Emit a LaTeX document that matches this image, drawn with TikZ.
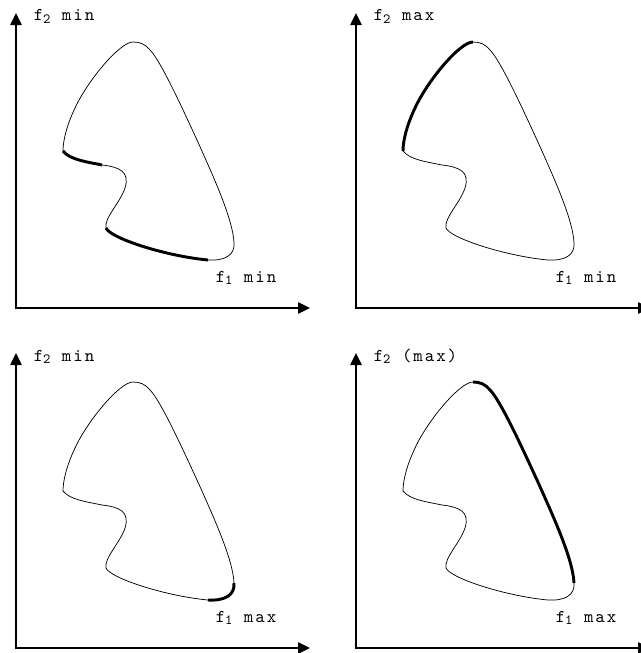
\documentclass[tikz,border=0pt]{standalone}
\usepackage{fontspec}
\newfontfamily\labfont{lmmono10-regular.otf}[LetterSpace=11]
\usetikzlibrary{arrows.meta}
\tikzset{
  axes/.style={line width=1.1pt, {Triangle[length=9pt,width=8.5pt]}-{Triangle[length=9pt,width=8.5pt]}},
  thincurve/.style={line width=0.55pt},
  boldcurve/.style={line width=2.2pt},
  lab/.style={font=\labfont\fontsize{13.5}{13.5}\selectfont, anchor=base west, inner sep=0pt}
}
% curve pieces (pixel coordinates, y downwards)
\def\segLA{(63,151) .. controls (70,160) and (88,162) .. (102,165)}
\def\segAD{(102,165) .. controls (120,167) and (130,172) .. (125,188) .. controls (120,203) and (104,218) .. (106,228)}
\def\segDE{(106,228) .. controls (110,238) and (165,256) .. (208,260)}
\def\segEF{(208,260) .. controls (225,261) and (235,255) .. (234,243)}
\def\segFP{(234,243) .. controls (233,220) and (215,180) .. (197,140) .. controls (180,103) and (160,60) .. (150,50) .. controls (145,44) and (140,42) .. (133,42)}
\def\segPL{(133,42) .. controls (120,42) and (88,80) .. (75,108) .. controls (67,125) and (63,140) .. (63,151)}
\newcommand\subt[1]{\raisebox{-2.2pt}{\fontsize{10.5}{10.5}\selectfont #1}}
\begin{document}
\begin{tikzpicture}[x=0.75pt,y=-0.75pt]
  \clip (0,0) rectangle (641,653);
  \useasboundingbox (0,0) rectangle (641,653);
  % panel 1
  \begin{scope}
    \coordinate (o1) at (16,308); \coordinate (y1) at (16,13); \coordinate (x1) at (310,308);
    \draw[axes] (y1) -- (o1) -- (x1);
    \node[lab] (t1) at (33.5,21) {f\subt{2} min};
    \node[lab] (r1) at (215.5,282) {f\subt{1} min};
    \draw[thincurve] \segLA -- \segAD -- \segDE -- \segEF -- \segFP -- \segPL -- cycle;
    \draw[boldcurve] \segLA;
    \draw[boldcurve] \segDE;
  \end{scope}
  % panel 2
  \begin{scope}[shift={(340,0)}]
    \coordinate (o2) at (16,308); \coordinate (y2) at (16,13); \coordinate (x2) at (310,308);
    \draw[axes] (y2) -- (o2) -- (x2);
    \node[lab] (t2) at (33.5,21) {f\subt{2} max};
    \node[lab] (r2) at (215.5,282) {f\subt{1} min};
    \draw[thincurve] \segLA -- \segAD -- \segDE -- \segEF -- \segFP -- \segPL -- cycle;
    \draw[boldcurve] \segPL;
  \end{scope}
  % panel 3
  \begin{scope}[shift={(0,340)}]
    \coordinate (o3) at (16,308); \coordinate (y3) at (16,13); \coordinate (x3) at (310,308);
    \draw[axes] (y3) -- (o3) -- (x3);
    \node[lab] (t3) at (33.5,21) {f\subt{2} min};
    \node[lab] (r3) at (215.5,282) {f\subt{1} max};
    \draw[thincurve] \segLA -- \segAD -- \segDE -- \segEF -- \segFP -- \segPL -- cycle;
    \draw[boldcurve] \segEF;
  \end{scope}
  % panel 4
  \begin{scope}[shift={(340,340)}]
    \coordinate (o4) at (16,308); \coordinate (y4) at (16,13); \coordinate (x4) at (310,308);
    \draw[axes] (y4) -- (o4) -- (x4);
    \node[lab] (t4) at (33.5,21) {f\subt{2} (max)};
    \node[lab] (r4) at (215.5,282) {f\subt{1} max};
    \draw[thincurve] \segLA -- \segAD -- \segDE -- \segEF -- \segFP -- \segPL -- cycle;
    \draw[boldcurve] \segFP;
  \end{scope}
\end{tikzpicture}
\end{document}
